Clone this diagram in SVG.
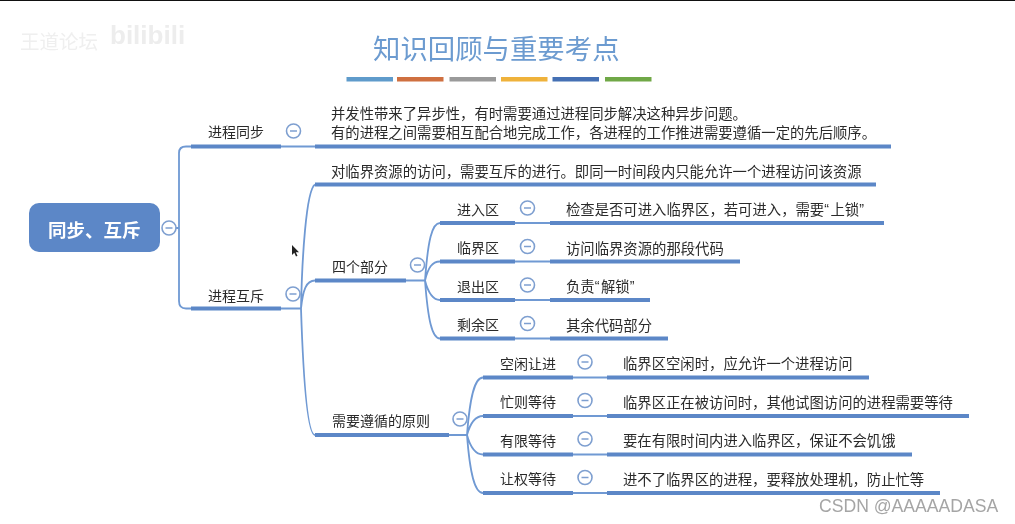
<svg xmlns="http://www.w3.org/2000/svg" width="1015" height="524" viewBox="0 0 1015 524">
<style>
text{font-family:"Noto Sans CJK SC","Liberation Sans",sans-serif;fill:#2b2b2b;font-size:14px;dominant-baseline:central}
.d{font-size:14.35px}
.q{font-family:"Liberation Sans",sans-serif;letter-spacing:1.5px}
.bar{fill:#5b87c7}
.thin{fill:none;stroke:#6f99d3;stroke-width:1.8}
.tc{fill:#fff;stroke:#7e9fd0;stroke-width:1.6}
.m{stroke:#7e9fd0;stroke-width:1.5}
</style>
<defs>
<filter id="soft" x="-2%" y="-2%" width="104%" height="104%"><feGaussianBlur stdDeviation="0.35"/></filter>
<g id="col"><circle r="7" class="tc"/><line x1="-3.5" x2="3.5" class="m"/></g>
</defs>
<rect width="1015" height="524" fill="#fff"/>
<rect width="1015" height="1" fill="#111"/>
<g filter="url(#soft)">
<g id="watermark">
<text x="20" y="40" style="font-size:19.5px;fill:#efefef">王道论坛</text>
<text x="110" y="35" style="font-size:26px;font-weight:700;fill:#ededed;font-family:'Liberation Sans',sans-serif">bilibili</text>
</g>
<g id="title">
<text x="373" y="46.500" style="font-size:27.4px;fill:#6c9bd0">知识回顾与重要考点</text>
<rect x="346.500" y="77" width="46.500" height="4.500" fill="#5f9bcb"/>
<rect x="397" y="77" width="46.500" height="4.500" fill="#cf6f3f"/>
<rect x="449.500" y="77" width="46.500" height="4.500" fill="#9a9a9a"/>
<rect x="501" y="77" width="46.500" height="4.500" fill="#efb23a"/>
<rect x="552.500" y="77" width="46.500" height="4.500" fill="#4470b4"/>
<rect x="605" y="77" width="46.500" height="4.500" fill="#70a846"/>
</g>
<g id="connectors">
<path class="thin" d="M169 228H179M191 146.500H186Q179 146.500 179 153V301Q179 308.500 186 308.500H191"/>
<path class="thin" d="M281 146.500H315M281 308.500H301M301 308.500C302 260 306 190 315 184.500M301 308.500C303 290 306 280.500 315 280.500M301 308.500C303 370 307 435 315 435"/>
<path class="thin" d="M406 280.500H425M425 280.500C428 240 432 223 440 223M425 280.500C428 268 432 261.500 440 261.500M425 280.500C428 292 432 300 440 300M425 280.500C428 320 432 338.500 440 338.500"/>
<path class="thin" d="M515 223H550M515 261.500H550M515 300H550M515 338.500H550"/>
<path class="thin" d="M449 435H467M467 435C470 395 475 377.500 483 377.500M467 435C470 424 475 416 483 416M467 435C470 446 475 454.500 483 454.500M467 435C470 475 475 493 483 493"/>
<path class="thin" d="M573 377.500H607M573 416H607M573 454.500H607M573 493H607"/>
</g>
<g id="root">
<rect x="29" y="203" width="131" height="49" rx="10" fill="#5b87c7"/>
<text x="48" y="228.500" style="font-size:18.5px;font-weight:700;fill:#fff">同步、互斥</text>
<use href="#col" x="169" y="228"/>
</g>
<g id="sync">
<rect class="bar" x="191" y="144.500" width="90" height="4"/>
<text x="208" y="131">进程同步</text>
<use href="#col" x="293.500" y="131"/>
</g>
<g id="sync-detail">
<rect class="bar" x="315" y="144.500" width="576" height="4"/>
<text class="d" x="331" y="112.500">并发性带来了异步性，有时需要通过进程同步解决这种异步问题。</text>
<text class="d" x="331" y="131">有的进程之间需要相互配合地完成工作，各进程的工作推进需要遵循一定的先后顺序。</text>
</g>
<g id="mutex">
<rect class="bar" x="191" y="306.500" width="90" height="4"/>
<text x="208" y="294.500">进程互斥</text>
<use href="#col" x="293" y="294"/>
</g>
<g id="mutex-detail">
<rect class="bar" x="315" y="182.500" width="561" height="4"/>
<text class="d" x="331" y="170">对临界资源的访问，需要互斥的进行。即同一时间段内只能允许一个进程访问该资源</text>
</g>
<g id="four">
<rect class="bar" x="315" y="278.500" width="91" height="4"/>
<text x="332" y="265.500">四个部分</text>
<use href="#col" x="417.500" y="265"/>
</g>
<g id="enter">
<rect class="bar" x="440" y="221" width="75" height="4"/>
<text x="457" y="208.500">进入区</text>
<use href="#col" x="527.500" y="208"/>
<rect class="bar" x="550" y="221" width="334" height="4"/>
<text class="d" x="566" y="208.500">检查是否可进入临界区，若可进入，需要<tspan class="q">“</tspan>上锁<tspan class="q">”</tspan></text>
</g>
<g id="critical">
<rect class="bar" x="440" y="259.500" width="75" height="4"/>
<text x="457" y="247">临界区</text>
<use href="#col" x="527.500" y="246.500"/>
<rect class="bar" x="550" y="259.500" width="190" height="4"/>
<text class="d" x="566" y="247">访问临界资源的那段代码</text>
</g>
<g id="exit">
<rect class="bar" x="440" y="298" width="75" height="4"/>
<text x="457" y="285.500">退出区</text>
<use href="#col" x="527.500" y="285"/>
<rect class="bar" x="550" y="298" width="100" height="4"/>
<text class="d" x="566" y="285.500">负责<tspan class="q">“</tspan>解锁<tspan class="q">”</tspan></text>
</g>
<g id="rest">
<rect class="bar" x="440" y="336.500" width="75" height="4"/>
<text x="457" y="324">剩余区</text>
<use href="#col" x="527.500" y="323.500"/>
<rect class="bar" x="550" y="336.500" width="118" height="4"/>
<text class="d" x="566" y="324">其余代码部分</text>
</g>
<g id="rules">
<rect class="bar" x="315" y="433" width="134" height="4"/>
<text x="332" y="420">需要遵循的原则</text>
<use href="#col" x="460" y="419"/>
</g>
<g id="idle">
<rect class="bar" x="483" y="375.500" width="90" height="4"/>
<text x="500" y="362.500">空闲让进</text>
<use href="#col" x="585" y="362"/>
<rect class="bar" x="607" y="375.500" width="262" height="4"/>
<text class="d" x="623" y="362.500">临界区空闲时，应允许一个进程访问</text>
</g>
<g id="busy">
<rect class="bar" x="483" y="414" width="90" height="4"/>
<text x="500" y="401">忙则等待</text>
<use href="#col" x="585" y="400.500"/>
<rect class="bar" x="607" y="414" width="362" height="4"/>
<text class="d" x="623" y="401">临界区正在被访问时，其他试图访问的进程需要等待</text>
</g>
<g id="bounded">
<rect class="bar" x="483" y="452.500" width="90" height="4"/>
<text x="500" y="439.500">有限等待</text>
<use href="#col" x="585" y="439"/>
<rect class="bar" x="607" y="452.500" width="305" height="4"/>
<text class="d" x="623" y="439.500">要在有限时间内进入临界区，保证不会饥饿</text>
</g>
<g id="yield">
<rect class="bar" x="483" y="491" width="90" height="4"/>
<text x="500" y="478">让权等待</text>
<use href="#col" x="585" y="477.500"/>
<rect class="bar" x="607" y="491" width="333" height="4"/>
<text class="d" x="623" y="478">进不了临界区的进程，要释放处理机，防止忙等</text>
</g>
<path id="cursor" d="M292 245V255L294.300 252.800 296 256.500 297.500 255.800 295.800 252.300H299Z" fill="#222"/>
<text id="csdn" x="819" y="506" style="font-size:17.600px;fill:#a5a5a5;font-family:'Liberation Sans',sans-serif">CSDN @AAAAADASA</text>
</g>
</svg>
